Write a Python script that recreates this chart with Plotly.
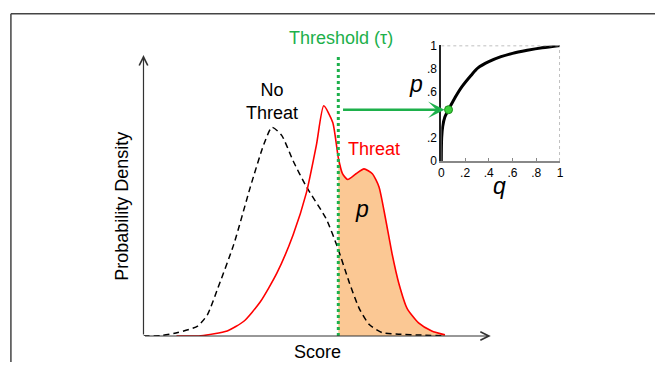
import plotly.graph_objects as go

# ---- data (score in arbitrary units 0-10, density in arbitrary units) ----
no_threat_score = [0, 0.5, 0.99, 1.56, 1.84, 2.13, 2.60, 3.08, 3.46, 3.70, 3.98, 4.31,
                   4.69, 5.26, 5.59, 5.93, 6.21, 6.50, 6.87, 7.35, 8.01, 8.63]
no_threat_density = [0, 0.002, 0.015, 0.043, 0.092, 0.203, 0.397, 0.647, 0.828, 0.904,
                     0.869, 0.758, 0.647, 0.508, 0.383, 0.230, 0.120, 0.050, 0.015,
                     0.008, 0.004, 0.001]

threat_score = [0.95, 1.65, 2.41, 2.89, 3.36, 3.84, 4.31, 4.69, 4.98, 5.19, 5.45, 5.61,
                5.73, 5.88, 6.12, 6.35, 6.59, 6.78, 6.97, 7.16, 7.35, 7.59, 7.92, 8.30, 8.68]
threat_density = [0, 0.001, 0.022, 0.064, 0.147, 0.272, 0.439, 0.620, 0.828, 0.997, 0.925,
                  0.772, 0.703, 0.678, 0.703, 0.724, 0.703, 0.647, 0.508, 0.355, 0.230,
                  0.120, 0.057, 0.022, 0.005]

threshold = 5.61

roc_q = [0, 0.003, 0.012, 0.03, 0.061, 0.1, 0.171, 0.25, 0.309, 0.4, 0.503, 0.6, 0.724, 0.85, 1.0]
roc_p = [0, 0.2, 0.3, 0.38, 0.444, 0.52, 0.639, 0.74, 0.806, 0.86, 0.903, 0.932, 0.958, 0.98, 1.0]
op_q = 0.061
op_p = 0.444

inset_xticks = [0, 0.2, 0.4, 0.6, 0.8, 1]
inset_xlabels = ["0", ".2", ".4", ".6", ".8", "1"]
inset_yticks = [0, 0.2, 0.6, 0.8, 1]
inset_ylabels = ["0", ".2", ".6", ".8", "1"]

GREEN = "#1db04b"
FONT = "Liberation Sans, Arial, Helvetica, sans-serif"
W, H = 659, 369

fill_x = [s for s in threat_score if s >= threshold]
fill_y = [d for s, d in zip(threat_score, threat_density) if s >= threshold]

fig = go.Figure()

fig.add_trace(go.Scatter(x=fill_x, y=fill_y, mode="lines", fill="tozeroy",
                         fillcolor="#fbc894", line=dict(width=0, shape="spline", smoothing=0.6),
                         hoverinfo="skip", xaxis="x", yaxis="y"))
fig.add_trace(go.Scatter(x=no_threat_score, y=no_threat_density, mode="lines",
                         line=dict(color="black", width=1.5, dash="6px,4px", shape="spline", smoothing=0.6),
                         xaxis="x", yaxis="y"))
fig.add_trace(go.Scatter(x=threat_score, y=threat_density, mode="lines",
                         line=dict(color="#ff0000", width=1.6, shape="spline", smoothing=0.6),
                         xaxis="x", yaxis="y"))

# inset ROC
fig.add_trace(go.Scatter(x=roc_q, y=roc_p, mode="lines",
                         line=dict(color="black", width=3, shape="spline", smoothing=0.8),
                         xaxis="x2", yaxis="y2"))
fig.add_trace(go.Scatter(x=[op_q], y=[op_p], mode="markers",
                         marker=dict(size=8, color="#3ccf3c", line=dict(color="#1a8a1a", width=1)),
                         xaxis="x2", yaxis="y2", cliponaxis=False))

y_top = 1.2167

shapes = [
    # figure border (left & top)
    dict(type="line", xref="paper", yref="paper", x0=8 / W, x1=8 / W, y0=0, y1=1 - 7 / H,
         line=dict(color="#444", width=1.5)),
    dict(type="line", xref="paper", yref="paper", x0=8 / W, x1=1, y0=1 - 7 / H, y1=1 - 7 / H,
         line=dict(color="#444", width=1.5)),
    # threshold
    dict(type="line", xref="x", yref="y domain", x0=threshold, x1=threshold, y0=0, y1=1,
         line=dict(color=GREEN, width=3, dash="dot")),
    # inset dotted top/right frame
    dict(type="line", xref="x2", yref="y2", x0=0, x1=1, y0=1, y1=1,
         line=dict(color="#aaa", width=1.5, dash="dot")),
    dict(type="line", xref="x2", yref="y2", x0=1, x1=1, y0=0, y1=1,
         line=dict(color="#aaa", width=1.5, dash="dot")),
]


def label(x, y, text, size=18, color="black", ref="paper", **kw):
    return dict(x=x, y=y, xref=ref if ref == "paper" else "x", yref=ref if ref == "paper" else "y",
                text=text, showarrow=False, xanchor="center", yanchor="middle",
                font=dict(size=size, color=color, family=FONT), **kw)


annotations = [
    # main axes with arrow heads
    dict(x=10, y=0, ax=0, ay=0, xref="x", yref="y", axref="x", ayref="y", text="",
         showarrow=True, arrowhead=5, arrowsize=1.4, arrowwidth=1.2, arrowcolor="#333"),
    dict(x=0, y=y_top, ax=0, ay=0, xref="x", yref="y", axref="x", ayref="y", text="",
         showarrow=True, arrowhead=5, arrowsize=1.4, arrowwidth=1.2, arrowcolor="#333"),
    # green arrow to operating point
    dict(x=op_q, y=op_p, xref="x2", yref="y2", ax=-107, ay=0, axref="pixel", ayref="pixel",
         text="", showarrow=True, arrowhead=3, arrowsize=1.1, arrowwidth=2.5,
         arrowcolor=GREEN, standoff=4),
    # labels
    label(3.70, 1.015, "No<br>Threat", ref="data"),
    label(6.64, 0.808, "Threat", color="#ff0000", ref="data"),
    label(6.30, 0.55, "<i>p</i>", size=23, ref="data"),
    label(318 / W, 1 - 359 / H, "Score"),
    label(120 / W, 1 - 207 / H, "Probability Density", textangle=-90),
    label(342 / W, 1 - 32 / H, "Threshold (τ)", color=GREEN),
    label(417 / W, 1 - 80 / H, "<i>p</i>", size=23),
    label(502 / W, 1 - 186 / H, "<i>q</i>", size=23),
]

hidden = dict(showgrid=False, zeroline=False, showticklabels=False, showline=False, ticks="")

fig.update_layout(
    width=W, height=H, margin=dict(l=0, r=0, t=0, b=0),
    paper_bgcolor="white", plot_bgcolor="white", showlegend=False,
    font=dict(family=FONT),
    xaxis=dict(domain=[142 / W, 493 / W], range=[0, 10], anchor="y", **hidden),
    yaxis=dict(domain=[27 / H, 319 / H], range=[0, y_top], anchor="x", **hidden),
    xaxis2=dict(domain=[443 / W, 563 / W], range=[0, 1], anchor="y2",
                tickvals=inset_xticks, ticktext=inset_xlabels, showgrid=False, zeroline=False,
                showline=True, linecolor="#888", linewidth=2, ticks="inside", ticklen=3,
                tickcolor="#888", tickfont=dict(size=12, color="black", family=FONT)),
    yaxis2=dict(domain=[209 / H, 329 / H], range=[0, 1], anchor="x2",
                tickvals=inset_yticks, ticktext=inset_ylabels, showgrid=False, zeroline=False,
                showline=True, linecolor="#222", linewidth=2, ticks="", ticklen=0,
                tickfont=dict(size=12, color="black", family=FONT)),
    shapes=shapes, annotations=annotations,
)

fig.write_html("out.html")
